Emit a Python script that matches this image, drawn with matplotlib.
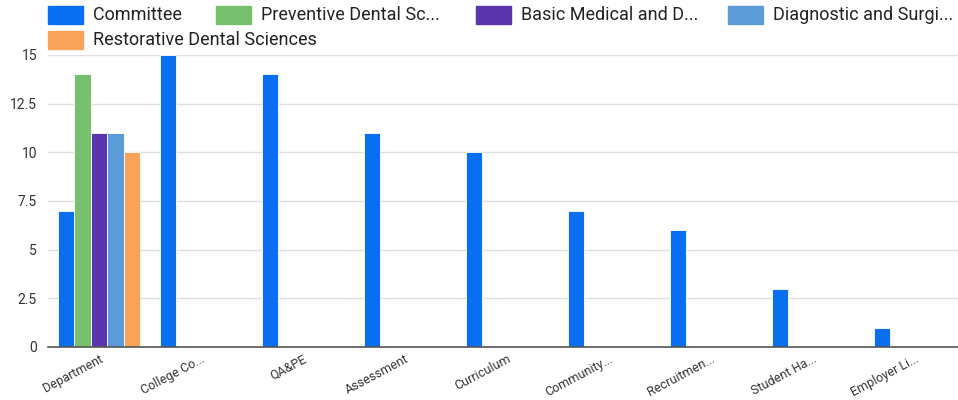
import numpy as np
import matplotlib
matplotlib.use("Agg")
import matplotlib.pyplot as plt
from matplotlib.patches import Rectangle

plt.rcParams['font.family'] = ['Roboto', 'DejaVu Sans']

categories = ["Department", "College Co...", "QA&PE", "Assessment", "Curriculum",
              "Community...", "Recruitmen...", "Student Ha...", "Employer Li..."]
series_names = ["Committee", "Preventive Dental Sc...", "Basic Medical and D...",
                "Diagnostic and Surgi...", "Restorative Dental Sciences"]
committee = [7, 15, 14, 11, 10, 7, 6, 3, 1]
preventive = [14, None, None, None, None, None, None, None, None]
basic_medical = [11, None, None, None, None, None, None, None, None]
diagnostic = [11, None, None, None, None, None, None, None, None]
restorative = [10, None, None, None, None, None, None, None, None]
y_ticks = [0, 2.5, 5, 7.5, 10, 12.5, 15]
y_tick_labels = ["0", "2.5", "5", "7.5", "10", "12.5", "15"]

colors = ["#0a6ef0", "#77c06e", "#5b35b0", "#5a9bd8", "#f9a35a"]
all_series = [committee, preventive, basic_medical, diagnostic, restorative]

W, H = 958, 400
fig = plt.figure(figsize=(W / 100, H / 100), dpi=100)
ax = fig.add_axes([48 / W, (H - 347) / H, 918 / W, (347 - 55) / H])

x = np.arange(len(categories))
bw = 0.162
for j, (vals, c) in enumerate(zip(all_series, colors)):
    v = np.array([np.nan if a is None else a for a in vals], dtype=float)
    ax.bar(x + (j - 2) * bw, v, width=bw, color=c, edgecolor="white",
           linewidth=0.6, zorder=3)

ax.set_xlim(-0.5, len(categories) - 0.5)
ax.set_ylim(0, 15)
ax.set_yticks(y_ticks)
ax.set_yticklabels(y_tick_labels, fontsize=10, color="#333333")
ax.set_xticks(x)
ax.set_xticklabels(categories, rotation=28, ha="right", va="top",
                   rotation_mode="anchor", fontsize=9, color="#333333")
ax.tick_params(axis="y", length=0, pad=8)
ax.tick_params(axis="x", length=0, pad=4)
ax.grid(axis="y", color="#e0e0e0", linewidth=1, zorder=0)
for s in ["top", "right", "left"]:
    ax.spines[s].set_visible(False)
ax.spines["bottom"].set_color("#555555")
ax.spines["bottom"].set_linewidth(1.2)
ax.spines["bottom"].set_zorder(4)

# Legend drawn in figure pixels, two rows
legend_pos = [(48, 15), (216, 15), (476, 15), (728, 15), (48, 40)]
for (lx, ly), name, c in zip(legend_pos, series_names, colors):
    fig.patches.append(Rectangle((lx / W, (H - ly - 9) / H), 35 / W, 18 / H,
                                 transform=fig.transFigure, color=c))
    fig.text((lx + 45) / W, (H - ly) / H, name, fontsize=13, color="#222222",
             va="center", ha="left")

fig.savefig("out.png", dpi=100, facecolor="white")
